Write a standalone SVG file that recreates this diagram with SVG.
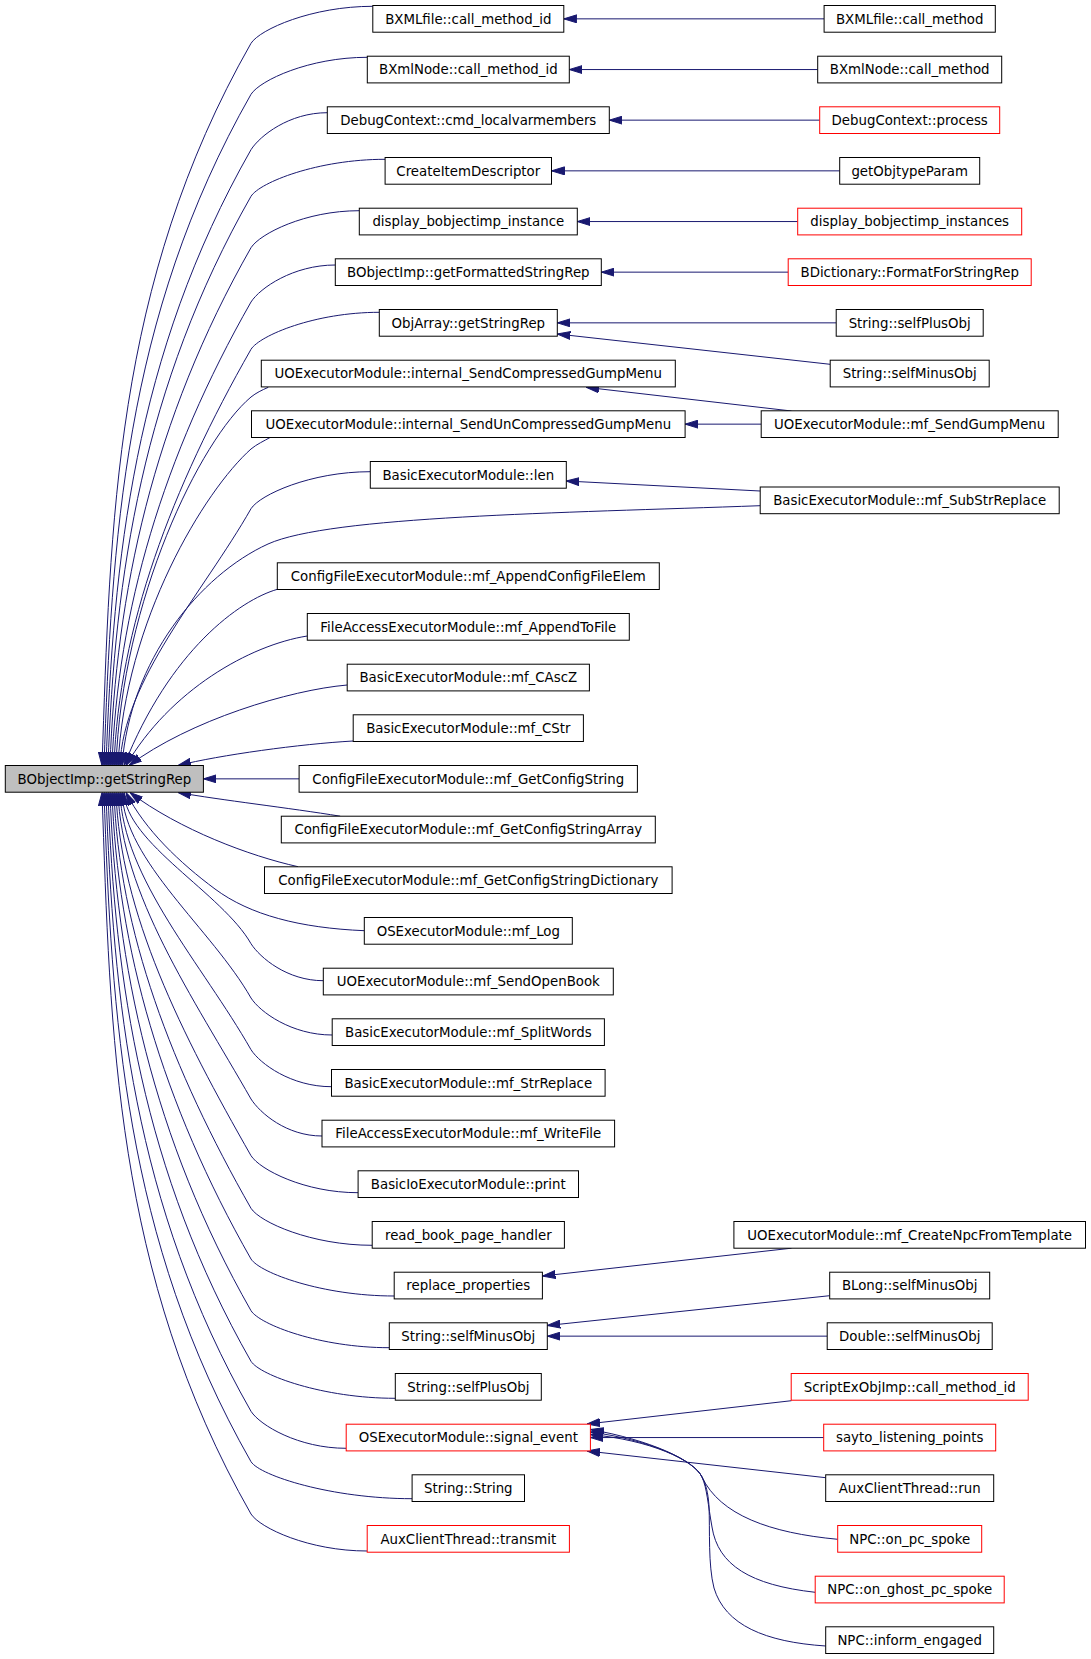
<svg xmlns="http://www.w3.org/2000/svg" width="1091" height="1659" viewBox="0 0 1091 1659">
<style>
.n rect{fill:#fff;stroke:#000;stroke-width:1}
.n.red rect{stroke:#f00}
.n.main rect{fill:#bfbfbf}
.n text{font-family:"DejaVu Sans","Liberation Sans",sans-serif;font-size:13.33px;text-anchor:middle;fill:#000}
#edges path{fill:none;stroke:#191970;stroke-width:1;marker-end:url(#arr)}
</style>
<defs>
<marker id="arr" viewBox="0 0 13 9" markerWidth="13" markerHeight="9" refX="13" refY="4.5" orient="auto" markerUnits="userSpaceOnUse">
<path d="M0,0.5 L13,4.5 L0,8.5 Z" fill="#191970" stroke="#191970" stroke-width="1"/>
</marker>
</defs>
<rect width="1091" height="1659" fill="#fff"/>
<g id="edges">
<path d="M824.1,18.85 L563.8,18.85"/>
<path d="M817.7,69.55 L569.3,69.55"/>
<path d="M819.7,120.15 L609.3,120.15"/>
<path d="M839.7,170.85 L551.5,170.85"/>
<path d="M797.7,221.55 L577.3,221.55"/>
<path d="M788.2,272.15 L601.3,272.15"/>
<path d="M836.2,322.85 L557.3,322.85"/>
<path d="M830.2,364.3 L557.3,334"/>
<path d="M791.5,411 L586,387.3"/>
<path d="M761.2,424.15 L685.1,424.15"/>
<path d="M760.2,491 L566.3,481"/>
<path d="M791.5,1248.2 L542.4,1276"/>
<path d="M829.7,1295.7 L547.3,1325.5"/>
<path d="M827.2,1336.15 L547.3,1336.15"/>
<path d="M791.5,1400.7 L587,1424"/>
<path d="M823.7,1437.55 L590.4,1437.55"/>
<path d="M825.7,1477.7 L587,1451"/>
<path d="M837.7,1539.3 C770,1533 720,1515 702,1477 C694,1460 650,1440 590.4,1434.5"/>
<path d="M815.2,1592.3 C750,1585 718,1565 712,1527 C708,1505 707,1488 702,1477 C694,1460 650,1440 590.4,1432"/>
<path d="M825.7,1646 C765,1642 725,1625 714,1588 C708,1565 710,1530 709,1506 C708,1492 706,1485 702,1477 C694,1460 650,1440 590.4,1429.5"/>
<path d="M372.8,6.3 C311.9,6.3 260,29.3 251,43.3 C113.8,284 110.4,524.7 102,765.5"/>
<path d="M367.3,57.3 C309.2,57.3 260,80.3 251,94.3 C123.5,318 111.8,541.7 104,765.5"/>
<path d="M327.3,112.7 C289.2,112.7 260,135.7 251,149.7 C134,355 113.2,560.3 106,765.5"/>
<path d="M385.1,159.3 C318,159.3 260,182.3 251,196.3 C142.9,386 114.6,575.7 108,765.5"/>
<path d="M359.3,210.7 C305.2,210.7 260,233.7 251,247.7 C152.6,420.3 116,592.9 110,765.5"/>
<path d="M335.3,265 C293.2,265 260,288 251,302 C162.9,456.5 117.4,611 112,765.5"/>
<path d="M379.3,312.3 C315.2,312.3 260,335.3 251,349.3 C171.9,488 118.9,626.8 114,765.5"/>
<path d="M268.3,387.3 C262,390 256,393 251,397 C200,440 122,600 116,765.5"/>
<path d="M270,437.5 C264,441 257,444 251,449 C205,490 125,620 118,765.5"/>
<path d="M370.3,471.7 C310.7,471.7 260,494.7 251,508.7 C202.2,594.3 123,679.9 120,765.5"/>
<path d="M760.2,505.7 C560,513 330,516 268,544 C200,575 130,660 122,765.5"/>
<path d="M277.4,589.3 C240,600 170,650 124,765.5"/>
<path d="M307.3,636 C250,645 170,690 126,765.5"/>
<path d="M347.2,685 C290,690 190,720 129,765.5"/>
<path d="M353.2,741 C300,744 220,755 178,765.5"/>
<path d="M299.1,778.85 L203.4,778.85"/>
<path d="M340.2,816.2 C290,808 220,800 178,792.5"/>
<path d="M298,866.7 C250,856 180,830 130,792.5"/>
<path d="M364.4,930.7 C300,928 250,915 215,889 C180,863 145,830 126,792.5"/>
<path d="M323.4,980.7 C287.2,980.7 260,957.7 251,943.7 C222.3,893.3 125.8,842.9 124,792.5"/>
<path d="M332.2,1035 C291.6,1035 260,1012 251,998 C212,929.5 124.4,861 122,792.5"/>
<path d="M331.5,1086.7 C291.2,1086.7 260,1063.7 251,1049.7 C202.1,964 123,878.3 120,792.5"/>
<path d="M322,1136 C286.5,1136 260,1113 251,1099 C192.7,996.8 121.6,894.6 118,792.5"/>
<path d="M358.1,1192.7 C304.6,1192.7 260,1169.7 251,1155.7 C182,1034.6 120.2,913.5 116,792.5"/>
<path d="M372.2,1245.3 C311.6,1245.3 260,1222.3 251,1208.3 C172,1069.7 118.9,931.1 114,792.5"/>
<path d="M394.2,1296 C322.6,1296 260,1273 251,1259 C162.4,1103.5 117.4,948 112,792.5"/>
<path d="M389.3,1347.7 C320.2,1347.7 260,1324.7 251,1310.7 C152.6,1138 116,965.3 110,792.5"/>
<path d="M395.3,1398.3 C323.2,1398.3 260,1375.3 251,1361.3 C142.9,1171.7 114.6,982.1 108,792.5"/>
<path d="M346.2,1448.3 C298.6,1448.3 260,1425.3 251,1411.3 C133.4,1205 113.2,998.7 106,792.5"/>
<path d="M412.1,1498.7 C331.6,1498.7 260,1475.7 251,1461.7 C123.8,1238.6 111.8,1015.5 104,792.5"/>
<path d="M367.2,1551 C309.1,1551 260,1528 251,1514 C113.9,1273.5 110.4,1033 102,792.5"/>
</g>
<g id="n_main" class="n main"><rect x="5.3" y="765.5" width="198.1" height="26.7"/><text x="104.4" y="783.7">BObjectImp::getStringRep</text></g>
<g id="l0" class="n"><rect x="372.8" y="5.5" width="191" height="26.7"/><text x="468.3" y="23.7">BXMLfile::call_method_id</text></g>
<g id="l1" class="n"><rect x="367.3" y="56.2" width="202" height="26.7"/><text x="468.3" y="74.3">BXmlNode::call_method_id</text></g>
<g id="l2" class="n"><rect x="327.3" y="106.8" width="282" height="26.7"/><text x="468.3" y="125">DebugContext::cmd_localvarmembers</text></g>
<g id="l3" class="n"><rect x="385.1" y="157.5" width="166.4" height="26.7"/><text x="468.3" y="175.7">CreateItemDescriptor</text></g>
<g id="l4" class="n"><rect x="359.3" y="208.2" width="218" height="26.7"/><text x="468.3" y="226.3">display_bobjectimp_instance</text></g>
<g id="l5" class="n"><rect x="335.3" y="258.8" width="266" height="26.7"/><text x="468.3" y="277">BObjectImp::getFormattedStringRep</text></g>
<g id="l6" class="n"><rect x="379.3" y="309.5" width="178" height="26.7"/><text x="468.3" y="327.7">ObjArray::getStringRep</text></g>
<g id="l7" class="n"><rect x="261.3" y="360.2" width="414" height="26.7"/><text x="468.3" y="378.3">UOExecutorModule::internal_SendCompressedGumpMenu</text></g>
<g id="l8" class="n"><rect x="251.5" y="410.8" width="433.6" height="26.7"/><text x="468.3" y="429">UOExecutorModule::internal_SendUnCompressedGumpMenu</text></g>
<g id="l9" class="n"><rect x="370.3" y="461.5" width="196" height="26.7"/><text x="468.3" y="479.7">BasicExecutorModule::len</text></g>
<g id="l11" class="n"><rect x="277.3" y="562.8" width="382" height="26.7"/><text x="468.3" y="581">ConfigFileExecutorModule::mf_AppendConfigFileElem</text></g>
<g id="l12" class="n"><rect x="307.3" y="613.5" width="322" height="26.7"/><text x="468.3" y="631.7">FileAccessExecutorModule::mf_AppendToFile</text></g>
<g id="l13" class="n"><rect x="347.2" y="664.2" width="242.2" height="26.7"/><text x="468.3" y="682.3">BasicExecutorModule::mf_CAscZ</text></g>
<g id="l14" class="n"><rect x="353.2" y="714.8" width="230.2" height="26.7"/><text x="468.3" y="733">BasicExecutorModule::mf_CStr</text></g>
<g id="l15" class="n"><rect x="299.1" y="765.5" width="338.3" height="26.7"/><text x="468.3" y="783.7">ConfigFileExecutorModule::mf_GetConfigString</text></g>
<g id="l16" class="n"><rect x="281.3" y="816.2" width="374" height="26.7"/><text x="468.3" y="834.3">ConfigFileExecutorModule::mf_GetConfigStringArray</text></g>
<g id="l17" class="n"><rect x="264.5" y="866.8" width="407.6" height="26.7"/><text x="468.3" y="885">ConfigFileExecutorModule::mf_GetConfigStringDictionary</text></g>
<g id="l18" class="n"><rect x="364.3" y="917.5" width="208" height="26.7"/><text x="468.3" y="935.7">OSExecutorModule::mf_Log</text></g>
<g id="l19" class="n"><rect x="323.3" y="968.2" width="290" height="26.7"/><text x="468.3" y="986.3">UOExecutorModule::mf_SendOpenBook</text></g>
<g id="l20" class="n"><rect x="332.2" y="1018.8" width="272.2" height="26.7"/><text x="468.3" y="1037">BasicExecutorModule::mf_SplitWords</text></g>
<g id="l21" class="n"><rect x="331.5" y="1069.5" width="273.6" height="26.7"/><text x="468.3" y="1087.7">BasicExecutorModule::mf_StrReplace</text></g>
<g id="l22" class="n"><rect x="322" y="1120.2" width="292.6" height="26.7"/><text x="468.3" y="1138.3">FileAccessExecutorModule::mf_WriteFile</text></g>
<g id="l23" class="n"><rect x="358.1" y="1170.8" width="220.4" height="26.7"/><text x="468.3" y="1189">BasicIoExecutorModule::print</text></g>
<g id="l24" class="n"><rect x="372.2" y="1221.5" width="192.2" height="26.7"/><text x="468.3" y="1239.7">read_book_page_handler</text></g>
<g id="l25" class="n"><rect x="394.2" y="1272.2" width="148.2" height="26.7"/><text x="468.3" y="1290.3">replace_properties</text></g>
<g id="l26" class="n"><rect x="389.3" y="1322.8" width="158" height="26.7"/><text x="468.3" y="1341">String::selfMinusObj</text></g>
<g id="l27" class="n"><rect x="395.3" y="1373.5" width="146" height="26.7"/><text x="468.3" y="1391.7">String::selfPlusObj</text></g>
<g id="l28" class="n red"><rect x="346.2" y="1424.2" width="244.2" height="26.7"/><text x="468.3" y="1442.3">OSExecutorModule::signal_event</text></g>
<g id="l29" class="n"><rect x="412.1" y="1474.8" width="112.4" height="26.7"/><text x="468.3" y="1493">String::String</text></g>
<g id="l30" class="n red"><rect x="367.2" y="1525.5" width="202.2" height="26.7"/><text x="468.3" y="1543.7">AuxClientThread::transmit</text></g>
<g id="r0" class="n"><rect x="824.1" y="5.5" width="171.2" height="26.7"/><text x="909.7" y="23.7">BXMLfile::call_method</text></g>
<g id="r1" class="n"><rect x="817.7" y="56.2" width="184" height="26.7"/><text x="909.7" y="74.3">BXmlNode::call_method</text></g>
<g id="r2" class="n red"><rect x="819.7" y="106.8" width="180" height="26.7"/><text x="909.7" y="125">DebugContext::process</text></g>
<g id="r3" class="n"><rect x="839.7" y="157.5" width="140" height="26.7"/><text x="909.7" y="175.7">getObjtypeParam</text></g>
<g id="r4" class="n red"><rect x="797.7" y="208.2" width="224" height="26.7"/><text x="909.7" y="226.3">display_bobjectimp_instances</text></g>
<g id="r5" class="n red"><rect x="788.2" y="258.8" width="243" height="26.7"/><text x="909.7" y="277">BDictionary::FormatForStringRep</text></g>
<g id="r6" class="n"><rect x="836.2" y="309.5" width="147" height="26.7"/><text x="909.7" y="327.7">String::selfPlusObj</text></g>
<g id="r7" class="n"><rect x="830.2" y="360.2" width="159" height="26.7"/><text x="909.7" y="378.3">String::selfMinusObj</text></g>
<g id="r8" class="n"><rect x="761.2" y="410.8" width="297" height="26.7"/><text x="909.7" y="429">UOExecutorModule::mf_SendGumpMenu</text></g>
<g id="r9" class="n"><rect x="760.2" y="487" width="299" height="26.7"/><text x="909.7" y="505.2">BasicExecutorModule::mf_SubStrReplace</text></g>
<g id="r24" class="n"><rect x="733.9" y="1221.5" width="351.6" height="26.7"/><text x="909.7" y="1239.7">UOExecutorModule::mf_CreateNpcFromTemplate</text></g>
<g id="r25" class="n"><rect x="829.7" y="1272.2" width="160" height="26.7"/><text x="909.7" y="1290.3">BLong::selfMinusObj</text></g>
<g id="r26" class="n"><rect x="827.2" y="1322.8" width="165" height="26.7"/><text x="909.7" y="1341">Double::selfMinusObj</text></g>
<g id="r27" class="n red"><rect x="791.2" y="1373.5" width="237" height="26.7"/><text x="909.7" y="1391.7">ScriptExObjImp::call_method_id</text></g>
<g id="r28" class="n red"><rect x="823.7" y="1424.2" width="172" height="26.7"/><text x="909.7" y="1442.3">sayto_listening_points</text></g>
<g id="r29" class="n"><rect x="825.7" y="1474.8" width="168" height="26.7"/><text x="909.7" y="1493">AuxClientThread::run</text></g>
<g id="r30" class="n red"><rect x="837.7" y="1525.5" width="144" height="26.7"/><text x="909.7" y="1543.7">NPC::on_pc_spoke</text></g>
<g id="r31" class="n red"><rect x="815.2" y="1576.2" width="189" height="26.7"/><text x="909.7" y="1594.3">NPC::on_ghost_pc_spoke</text></g>
<g id="r32" class="n"><rect x="825.7" y="1626.8" width="168" height="26.7"/><text x="909.7" y="1645">NPC::inform_engaged</text></g>
</svg>
